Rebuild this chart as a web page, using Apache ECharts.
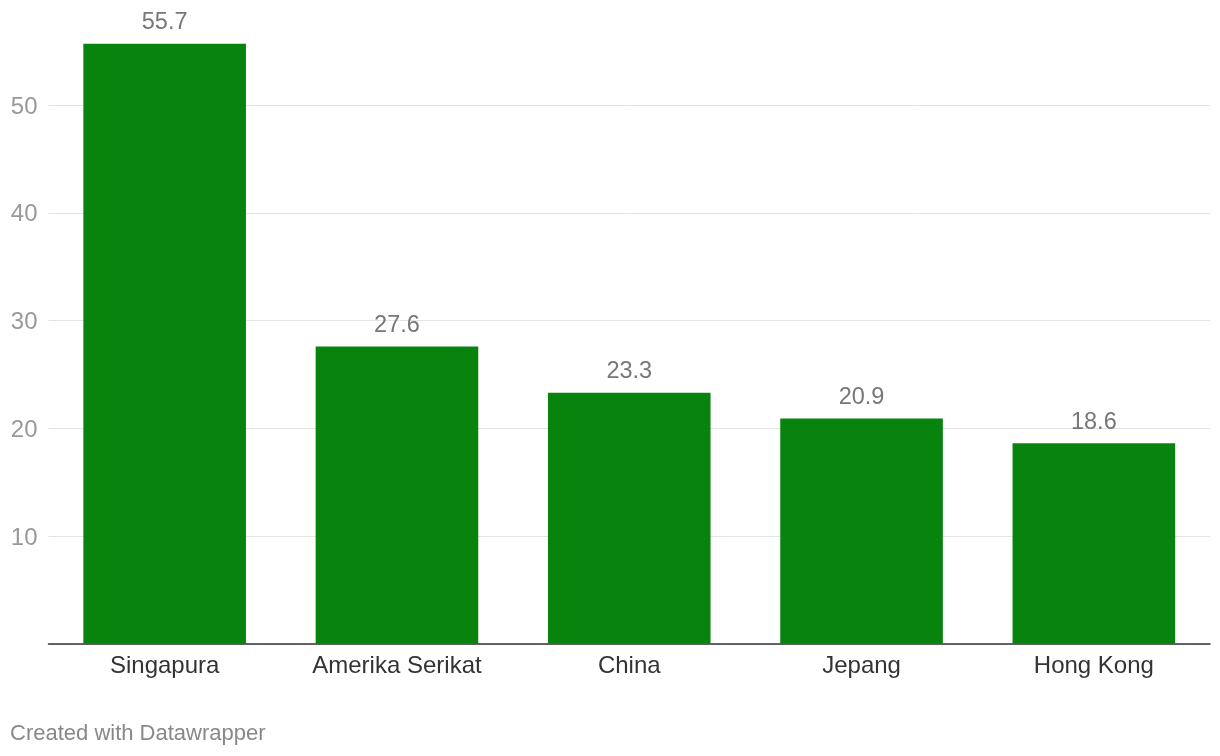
<!DOCTYPE html>
<html>
<head>
<meta charset="utf-8">
<script src="https://cdn.jsdelivr.net/npm/echarts@6/dist/echarts.min.js"></script>
<style>
html,body{margin:0;padding:0;background:#fff;}
#c{width:1220px;height:756px;}
</style>
</head>
<body>
<div id="c"></div>
<script>
const categories = ["Singapura", "Amerika Serikat", "China", "Jepang", "Hong Kong"];
const values = [55.7, 27.6, 23.3, 20.9, 18.6];
const yTicks = [10, 20, 30, 40, 50];

const FONT = '"Liberation Sans", Arial, Helvetica, sans-serif';
const chart = echarts.init(document.getElementById('c'), null, {renderer: 'canvas'});
chart.setOption({
  animation: false,
  backgroundColor: '#ffffff',
  textStyle: {fontFamily: FONT},
  grid: {left: 48.5, right: 10, top: 0, bottom: 112.25, containLabel: false},
  graphic: [{
    type: 'text', left: 10, top: 723,
    style: {text: 'Created with Datawrapper', fill: '#888888', font: '22px ' + FONT}
  }],
  xAxis: {
    type: 'category',
    data: categories,
    axisLine: {show: true, lineStyle: {color: '#333333', width: 1.5}},
    axisTick: {show: false},
    axisLabel: {color: '#333333', fontSize: 24, margin: 11, fontFamily: FONT}
  },
  yAxis: {
    type: 'value',
    min: 0, max: 59.75, interval: 10,
    axisLine: {show: false},
    axisTick: {show: false},
    splitLine: {lineStyle: {
      color: ['#e3e3e3', '#e3e3e3', '#e3e3e3', '#e3e3e3', '#e3e3e3', '#e3e3e3', 'rgba(0,0,0,0)'],
      width: 1
    }},
    axisLabel: {
      margin: 11,
      showMinLabel: false, showMaxLabel: false,
      formatter: v => yTicks.includes(v) ? '{t|' + v + '}' : '',
      rich: {
        t: {color: '#999999', fontSize: 24, fontFamily: FONT, padding: [4, 0, 0, 0]}
      }
    }
  },
  series: [{
    type: 'bar',
    data: values,
    barCategoryGap: '30%',
    itemStyle: {color: '#08840e'},
    label: {
      show: true, position: 'top', distance: 9,
      color: '#777777', fontSize: 23.5, fontFamily: FONT,
      formatter: p => p.value.toFixed(1)
    }
  }]
});
</script>
</body>
</html>
